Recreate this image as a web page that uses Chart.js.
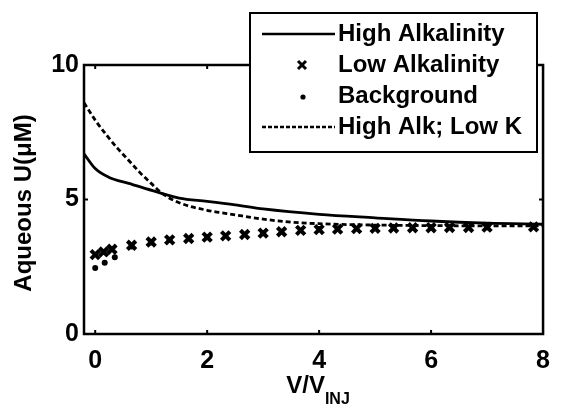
<!DOCTYPE html>
<html>
<head>
<meta charset="utf-8">
<script src="https://cdn.jsdelivr.net/npm/chart.js@4/dist/chart.umd.min.js"></script>
<style>
  html, body { margin: 0; padding: 0; background: #fff; }
  #wrap { width: 562px; height: 414px; }
</style>
</head>
<body>
<div id="wrap"><canvas id="c" width="562" height="414"></canvas></div>
<script>
// Data
const highAlkX = [-0.2, 0, 0.25, 0.6, 1.1, 1.5, 2, 2.5, 3, 4, 5, 6, 7, 8];
const highAlkY = [6.7, 6.15, 5.82, 5.6, 5.28, 5.05, 4.93, 4.8, 4.65, 4.45, 4.32, 4.2, 4.12, 4.08];

const lowKX = [-0.2, 0, 0.2, 0.4, 0.6, 0.8, 1.0, 1.2, 1.5, 2.0, 2.5, 3.0, 3.5, 4, 5, 6, 7, 8];
const lowKY = [8.6, 7.95, 7.4, 6.9, 6.45, 6.0, 5.6, 5.22, 4.88, 4.6, 4.43, 4.27, 4.16, 4.1, 4.05, 4.03, 4.02, 4.02];

const lowAlkX = [0, 0.15, 0.3, 0.65, 1.0, 1.33, 1.67, 2.0, 2.33, 2.67, 3.0, 3.33, 3.67, 4.0,
                 4.33, 4.67, 5.0, 5.33, 5.67, 6.0, 6.33, 6.67, 7.0, 7.83];
const lowAlkY = [2.95, 3.05, 3.15, 3.3, 3.42, 3.5, 3.55, 3.6, 3.65, 3.7, 3.75, 3.8, 3.85, 3.88,
                 3.9, 3.92, 3.93, 3.94, 3.95, 3.95, 3.96, 3.96, 3.97, 3.98];

const bgX = [0, 0.17, 0.35, 0.65, 1.0, 1.33, 2.0, 3.0, 4.0, 5.0, 6.0, 7.0];
const bgY = [2.45, 2.65, 2.85, 3.25, 3.4, 3.5, 3.6, 3.75, 3.9, 3.93, 3.95, 3.97];

const legendLabels = ['High Alkalinity', 'Low Alkalinity', 'Background', 'High Alk; Low K'];
const xTicks = [0, 2, 4, 6, 8];
const yTicks = [0, 5, 10];

const FONT = 'bold 24px "Liberation Sans", Arial, sans-serif';

function pts(xs, ys) {
    return xs.map((x, i) => ({ x: x, y: ys[i] }));
}

// Box, inward ticks, axis titles and legend
const figurePlugin = {
    id: 'figure',
    afterDraw(chart) {
        const ctx = chart.ctx;
        const a = chart.chartArea;
        const xs = chart.scales.x;
        const ys = chart.scales.y;
        ctx.save();
        ctx.strokeStyle = '#000';
        ctx.lineWidth = 2.5;
        ctx.strokeRect(a.left, a.top, a.right - a.left, a.bottom - a.top);

        // inward ticks
        ctx.lineWidth = 2;
        ctx.beginPath();
        xTicks.forEach(v => {
            const px = xs.getPixelForValue(v);
            ctx.moveTo(px, a.bottom); ctx.lineTo(px, a.bottom - 4);
            ctx.moveTo(px, a.top); ctx.lineTo(px, a.top + 4);
        });
        yTicks.forEach(v => {
            const py = ys.getPixelForValue(v);
            ctx.moveTo(a.left, py); ctx.lineTo(a.left + 4, py);
            ctx.moveTo(a.right, py); ctx.lineTo(a.right - 4, py);
        });
        ctx.stroke();

        // y title
        ctx.fillStyle = '#000';
        ctx.font = FONT;
        ctx.textAlign = 'center';
        ctx.textBaseline = 'middle';
        ctx.save();
        ctx.translate(24, 203);
        ctx.rotate(-Math.PI / 2);
        ctx.fillText('Aqueous U(\u03bcM)', 0, 0);
        ctx.restore();

        // x title V/V_INJ
        ctx.textAlign = 'left';
        ctx.textBaseline = 'alphabetic';
        ctx.font = FONT;
        const main = 'V/V';
        const mw = ctx.measureText(main).width;
        ctx.font = 'bold 16px "Liberation Sans", Arial, sans-serif';
        const sw = ctx.measureText('INJ').width;
        const x0 = 318 - (mw + sw) / 2;
        ctx.font = FONT;
        ctx.fillText(main, x0, 393);
        ctx.font = 'bold 16px "Liberation Sans", Arial, sans-serif';
        ctx.fillText('INJ', x0 + mw, 404);

        // legend
        const L = 250, T = 13, R = 537, B = 152;
        ctx.fillStyle = '#fff';
        ctx.fillRect(L, T, R - L, B - T);
        ctx.strokeStyle = '#000';
        ctx.lineWidth = 2;
        ctx.strokeRect(L, T, R - L, B - T);
        const rows = [34, 65, 96, 127];
        ctx.font = FONT;
        ctx.fillStyle = '#000';
        ctx.textBaseline = 'middle';
        legendLabels.forEach((lab, i) => {
            ctx.fillText(lab, 338, rows[i]);
        });
        // sample: solid
        ctx.lineWidth = 2.5;
        ctx.beginPath();
        ctx.moveTo(262, rows[0]); ctx.lineTo(335, rows[0]);
        ctx.stroke();
        // cross
        ctx.lineWidth = 3;
        ctx.beginPath();
        ctx.moveTo(298, rows[1] - 4); ctx.lineTo(306, rows[1] + 4);
        ctx.moveTo(306, rows[1] - 4); ctx.lineTo(298, rows[1] + 4);
        ctx.stroke();
        // dot
        ctx.beginPath();
        ctx.arc(303, rows[2] + 1, 2.6, 0, Math.PI * 2);
        ctx.fill();
        // dashed
        ctx.setLineDash([4, 2]);
        ctx.lineWidth = 2.5;
        ctx.beginPath();
        ctx.moveTo(262, rows[3]); ctx.lineTo(335, rows[3]);
        ctx.stroke();
        ctx.restore();
    }
};

new Chart(document.getElementById('c'), {
    type: 'scatter',
    data: {
        datasets: [
            {
                label: legendLabels[0],
                data: pts(highAlkX, highAlkY),
                showLine: true,
                borderColor: '#000',
                borderWidth: 2.8,
                pointRadius: 0,
                cubicInterpolationMode: 'monotone'
            },
            {
                label: legendLabels[3],
                data: pts(lowKX, lowKY),
                showLine: true,
                borderColor: '#000',
                borderWidth: 2.8,
                borderDash: [5, 3],
                pointRadius: 0,
                cubicInterpolationMode: 'monotone'
            },
            {
                label: legendLabels[2],
                data: pts(bgX, bgY),
                showLine: false,
                pointStyle: 'circle',
                pointRadius: 3,
                backgroundColor: '#000',
                borderColor: '#000',
                borderWidth: 0
            },
            {
                label: legendLabels[1],
                data: pts(lowAlkX, lowAlkY),
                showLine: false,
                pointStyle: 'crossRot',
                pointRadius: 6,
                borderColor: '#000',
                borderWidth: 4
            }
        ]
    },
    options: {
        responsive: false,
        animation: false,
        events: [],
        layout: { padding: { top: 65, right: 7, left: 0, bottom: 0 } },
        plugins: {
            legend: { display: false },
            tooltip: { enabled: false }
        },
        scales: {
            x: {
                type: 'linear',
                min: -0.2,
                max: 8,
                afterBuildTicks: s => { s.ticks = xTicks.map(v => ({ value: v })); },
                afterFit: s => { s.height = 80; },
                grid: { display: false, drawTicks: false },
                border: { display: false },
                ticks: {
                    color: '#000',
                    padding: 12,
                    maxRotation: 0,
                    font: { family: '"Liberation Sans", Arial, sans-serif', size: 25, weight: 'bold' }
                }
            },
            y: {
                type: 'linear',
                min: 0,
                max: 10,
                afterBuildTicks: s => { s.ticks = yTicks.map(v => ({ value: v })); },
                afterFit: s => { s.width = 84; },
                grid: { display: false, drawTicks: false },
                border: { display: false },
                ticks: {
                    color: '#000',
                    padding: 5,
                    font: { family: '"Liberation Sans", Arial, sans-serif', size: 25, weight: 'bold' }
                }
            }
        }
    },
    plugins: [figurePlugin]
});
</script>
</body>
</html>
